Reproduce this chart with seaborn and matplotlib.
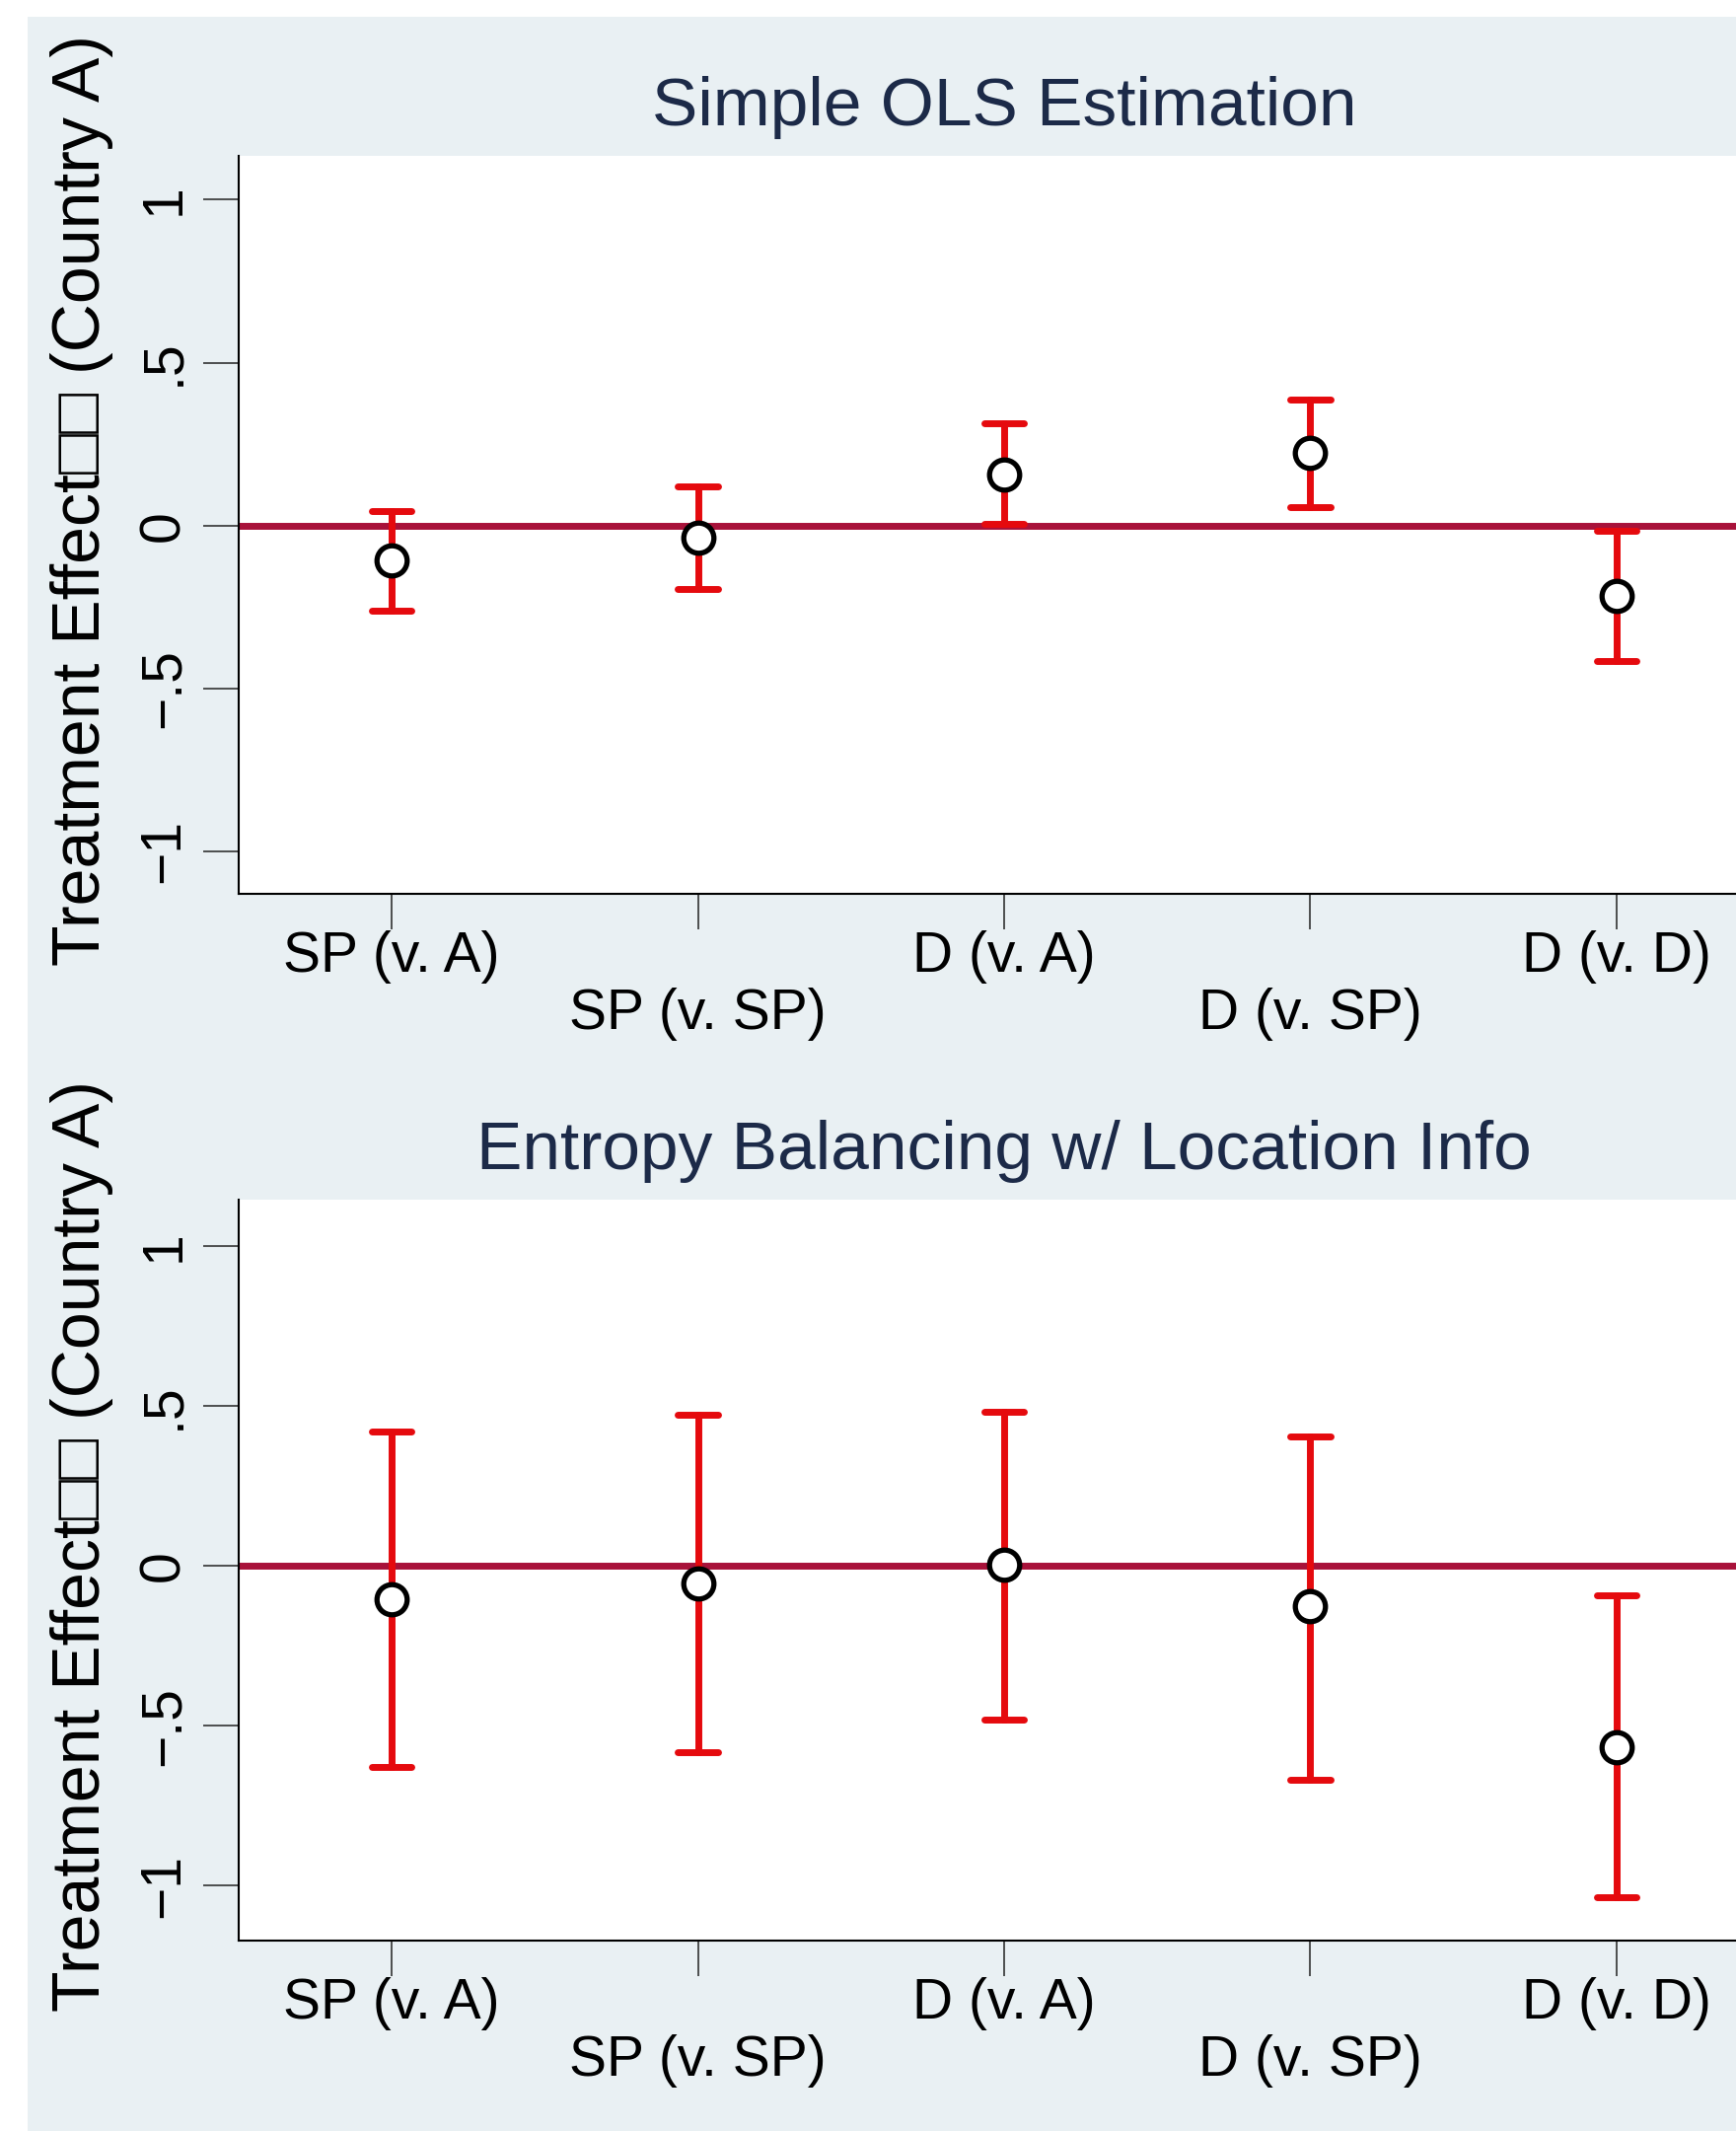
import numpy as np
import pandas as pd
import seaborn as sns
import matplotlib.pyplot as plt
from matplotlib.patches import Rectangle

# x axis categories
comparisons = ["SP (v. A)", "SP (v. SP)", "D (v. A)", "D (v. SP)", "D (v. D)"]

# panel 1 - simple OLS
ols_est = [-0.108, -0.036, 0.158, 0.222, -0.216]
ols_lo = [-0.260, -0.194, 0.004, 0.057, -0.417]
ols_hi = [0.045, 0.121, 0.313, 0.387, -0.016]

# panel 2 - entropy balancing
eb_est = [-0.105, -0.056, 0.003, -0.127, -0.566]
eb_lo = [-0.628, -0.582, -0.480, -0.669, -1.037]
eb_hi = [0.421, 0.474, 0.483, 0.406, -0.093]

titles = ["Simple OLS Estimation", "Entropy Balancing w/ Location Info"]
ytick_vals = [-1, -0.5, 0, 0.5, 1]
ytick_labels = ["\u22121", "\u2212.5", "0", ".5", "1"]
ylabel = "Treatment Effect\u25a1\u25a1 (Country A)"
ylims = [(-1.13, 1.135), (-1.172, 1.147)]

bg = "#e9f0f3"
red = "#e50a0e"
refline = "#a8123a"
navy = "#1c2a48"

sns.set_theme(style="ticks")
plt.rcParams["font.family"] = ["Liberation Sans", "DejaVu Sans"]


def long_table(est, lo, hi):
    # three rows per comparison: median = estimate, min/max = CI bounds
    rows = []
    for c, e, l, h in zip(comparisons, est, lo, hi):
        rows += [(c, l), (c, e), (c, h)]
    return pd.DataFrame(rows, columns=["comparison", "value"])


fig = plt.figure(figsize=(17.6, 21.6), dpi=100)
fig.patch.set_facecolor("white")
fig.add_artist(Rectangle((28 / 1760, 0), 1, 1 - 17 / 2160, transform=fig.transFigure,
                         facecolor=bg, edgecolor="none", zorder=-10))

positions = [[0.1375, 0.5806, 0.8818, 0.3463], [0.1375, 0.0894, 0.8818, 0.3477]]
panels = [(ols_est, ols_lo, ols_hi), (eb_est, eb_lo, eb_hi)]

for i, (est, lo, hi) in enumerate(panels):
    ax = fig.add_axes(positions[i])
    ax.set_facecolor("white")
    df = long_table(est, lo, hi)
    ax.axhline(0, color=refline, lw=5, zorder=2)
    sns.pointplot(data=df, x="comparison", y="value", order=comparisons,
                  estimator="median", errorbar=("pi", 100), color=red,
                  markers="o", linestyle="none", capsize=0.13,
                  err_kws={"linewidth": 5, "color": red, "zorder": 3},
                  markersize=22, markeredgewidth=3.8,
                  markerfacecolor="white", markeredgecolor="black",
                  zorder=4, ax=ax)
    ax.set_xlim(-0.5, 4.5)
    ax.set_ylim(*ylims[i])
    ax.set_yticks(ytick_vals)
    ax.set_yticklabels(ytick_labels)
    ax.set_xticks(range(len(comparisons)))
    ax.set_xticklabels(comparisons)
    ax.set_xlabel("")
    ax.set_ylabel(ylabel, fontsize=49, color="black")
    ax.yaxis.set_label_coords(-0.082, 0.533)
    ax.set_title(titles[i], fontsize=50, color=navy, pad=22)

    for s in ["top", "right"]:
        ax.spines[s].set_visible(False)
    for s in ["left", "bottom"]:
        ax.spines[s].set_linewidth(1.5)
        ax.spines[s].set_color("black")
    ax.tick_params(axis="both", length=26, width=1.1, color="#222222",
                   labelsize=41, labelcolor="black")
    ax.tick_params(axis="y", labelrotation=90, pad=9)
    for lab in ax.get_yticklabels():
        lab.set_va("center")
    # stata style alternating x labels
    for j, t in enumerate(ax.xaxis.get_major_ticks()):
        t.set_pad(0.5 if j % 2 == 0 else 42.5)

fig.savefig("out.png", dpi=100, facecolor=fig.get_facecolor())
